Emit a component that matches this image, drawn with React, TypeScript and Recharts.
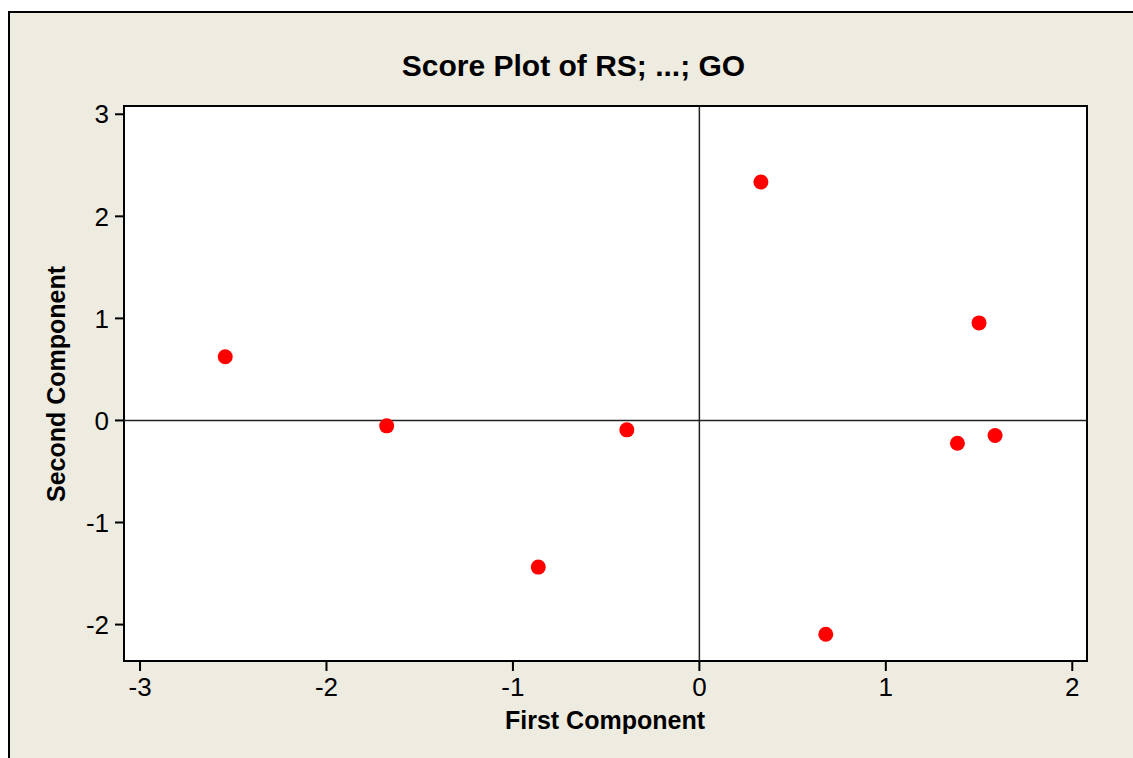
import {
  ScatterChart,
  Scatter,
  XAxis,
  YAxis,
  ReferenceArea,
  ReferenceLine,
} from "recharts";

const firstComponent = [-2.543, -1.677, -0.389, -0.864, 0.33, 0.678, 1.5, 1.384, 1.586];
const secondComponent = [0.624, -0.053, -0.092, -1.437, 2.336, -2.095, 0.956, -0.223, -0.147];

const xTicks = [-3, -2, -1, 0, 1, 2];
const yTicks = [-2, -1, 0, 1, 2, 3];
const xDomain: [number, number] = [-3.086, 2.079];
const yDomain: [number, number] = [-2.357, 3.081];

const title = "Score Plot of RS; ...; GO";
const xTitle = "First Component";
const yTitle = "Second Component";

const data = firstComponent.map((x, i) => ({ x, y: secondComponent[i] }));

const FONT = "'Liberation Sans', Arial, sans-serif";

function Dot(props: any) {
  const { cx, cy } = props;
  if (cx == null || cy == null) return null;
  return <circle cx={cx} cy={cy} r={7.5} fill="#ff0000" />;
}

export default function App() {
  return (
    <div
      style={{
        position: "absolute",
        left: 8,
        top: 11,
        width: 1123,
        height: 745,
        background: "#eeebe1",
        borderTop: "2px solid #000",
        borderLeft: "2px solid #000",
        fontFamily: FONT,
        overflow: "hidden",
      }}
    >
      <ScatterChart
        width={1123}
        height={745}
        margin={{ top: 93, right: 46, bottom: 57, left: 54 }}
      >
        <XAxis
          type="number"
          dataKey="x"
          domain={xDomain}
          ticks={xTicks}
          allowDataOverflow
          axisLine={false}
          tickLine={{ stroke: "#000", strokeWidth: 2 }}
          tickSize={10}
          tickMargin={7}
          height={40}
          tick={{ fill: "#000", fontSize: 26, fontFamily: FONT }}
          tickFormatter={(v) => String(v)}
        />
        <YAxis
          type="number"
          dataKey="y"
          domain={yDomain}
          ticks={yTicks}
          allowDataOverflow
          axisLine={false}
          tickLine={{ stroke: "#000", strokeWidth: 2 }}
          tickSize={9}
          tickMargin={6}
          width={60}
          tick={{ fill: "#000", fontSize: 26, fontFamily: FONT }}
          tickFormatter={(v) => String(v)}
        />
        <ReferenceArea
          x1={xDomain[0]}
          x2={xDomain[1]}
          y1={yDomain[0]}
          y2={yDomain[1]}
          fill="#ffffff"
          fillOpacity={1}
          stroke="#000"
          strokeWidth={2}
        />
        <ReferenceLine x={0} stroke="#222" strokeWidth={1.5} />
        <ReferenceLine y={0} stroke="#222" strokeWidth={1.5} />
        <Scatter data={data} shape={<Dot />} isAnimationActive={false} />
      </ScatterChart>
      <svg
        width={1123}
        height={745}
        style={{ position: "absolute", left: 0, top: 0, pointerEvents: "none" }}
      >
        <text
          x={563.5}
          y={63}
          textAnchor="middle"
          fontSize={30}
          fontWeight="bold"
          fontFamily={FONT}
          fill="#000"
        >
          {title}
        </text>
        <text
          x={595}
          y={716}
          textAnchor="middle"
          fontSize={25}
          fontWeight="bold"
          fontFamily={FONT}
          fill="#000"
        >
          {xTitle}
        </text>
        <text
          x={55}
          y={371}
          transform="rotate(-90 55 371)"
          textAnchor="middle"
          fontSize={25}
          fontWeight="bold"
          fontFamily={FONT}
          fill="#000"
        >
          {yTitle}
        </text>
      </svg>
    </div>
  );
}
